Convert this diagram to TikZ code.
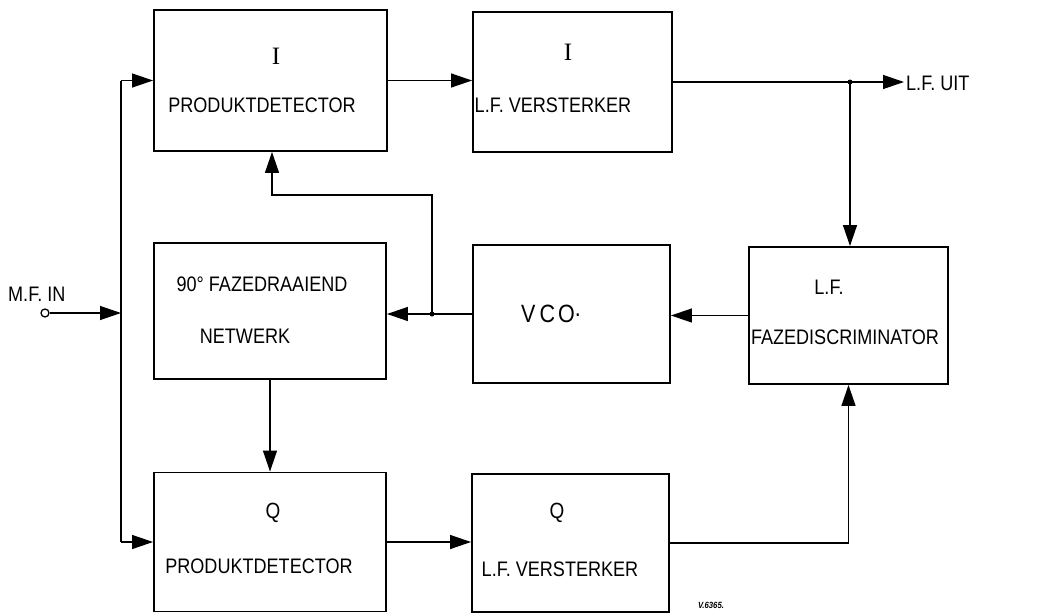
\documentclass[tikz,border=0pt]{standalone}
\usepackage{fontspec}
\setmainfont{Liberation Sans}[FakeStretch=0.86]
\newfontfamily\serifI{Liberation Serif}
\usetikzlibrary{arrows.meta}
\begin{document}
\begin{tikzpicture}[x=1pt,y=-1pt,
  blk/.style={draw,line width=1.9pt,inner sep=0pt},
  wire/.style={line width=1.3pt},
  arr/.style={wire,-{Triangle[length=21pt,width=14pt]}},
  lbl/.style={font=\fontsize{21}{23}\selectfont,inner sep=0pt},
  big/.style={font=\serifI\fontsize{25}{27}\selectfont,inner sep=0pt},
  dot/.style={circle,fill,inner sep=0pt,minimum size=5pt},
  port/.style={circle,draw,line width=1.3pt,fill=white,inner sep=0pt,minimum size=8pt}]
\useasboundingbox (0,0) rectangle (1061,613);
% blocks
\node[blk,minimum width=233pt,minimum height=141pt] (pdi) at (270.5,80.5) {};
\node[blk,minimum width=199pt,minimum height=140pt] (lfi) at (572.5,82) {};
\node[blk,minimum width=232pt,minimum height=136pt] (net) at (270,311) {};
\node[blk,minimum width=197pt,minimum height=138pt] (vco) at (571.5,314) {};
\node[blk,minimum width=199pt,minimum height=137pt] (fd) at (848.5,315.5) {};
\node[blk,minimum width=232pt,minimum height=139pt] (pdq) at (270,542) {};
\node[blk,minimum width=197pt,minimum height=138pt] (lfq) at (570.5,543) {};
% texts
\node[big] (tpdi1) at (276,56) {I};
\node[lbl] (tpdi2) at (262,105) {PRODUKTDETECTOR};
\node[big] (tlfi1) at (568,52) {I};
\node[lbl] (tlfi2) at (553,105) {L.F. VERSTERKER};
\node[lbl] (tnet1) at (262,284) {90\textdegree{} FAZEDRAAIEND};
\node[lbl] (tnet2) at (245,336) {NETWERK};
\node[lbl,font=\fontsize{25}{27}\selectfont] (tvco) at (551,314) {V\kern4pt C\kern3pt O\raisebox{6pt}{.}};
\node[lbl] (tfd1) at (829,287) {L.F.};
\node[lbl] (tfd2) at (845,337) {FAZEDISCRIMINATOR};
\node[lbl,font=\fontsize{22}{24}\selectfont] (tpdq1) at (273,513) {Q};
\node[lbl] (tpdq2) at (259,566) {PRODUKTDETECTOR};
\node[lbl,font=\fontsize{22}{24}\selectfont] (tlfq1) at (557,513) {Q};
\node[lbl] (tlfq2) at (560,569) {L.F. VERSTERKER};
\node[lbl,anchor=west] (uit) at (906,83) {L.F. UIT};
\node[lbl,anchor=west] (mfin) at (8,294) {M.F. IN};
\node[inner sep=0pt,font=\bfseries\itshape\fontsize{9}{10}\selectfont] (vnum) at (711,605) {V.6365.};
% coordinates
\node[port] (in) at (45,313) {};
\coordinate (bus) at (121,313);
\coordinate (j1) at (850,82);
\coordinate (j2) at (432,314);
\coordinate (out) at (904,82);
\coordinate (bend) at (432,195);
% connectors
\draw[arr] (in) -- (bus);
\draw[wire] (bus |- pdi.west) -- (bus |- pdq.west);
\draw[arr] (bus |- pdi.west) -- (pdi.west);
\draw[arr] (bus |- pdq.west) -- (pdq.west);
\draw[arr] (pdi.east) -- (pdi.east -| lfi.west);
\draw[wire] (lfi.east) -- (j1);
\draw[arr] (j1) -- (out);
\draw[arr] (j1) -- (j1 |- fd.north);
\draw[arr] (fd.west) -- (fd.west -| vco.east);
\draw[wire] (vco.west) -- (j2);
\draw[arr] (j2) -- (j2 -| net.east);
\draw[arr] (j2) -- (bend) -| ([xshift=1.5pt]pdi.south);
\draw[arr] (net.south) -- (net.south |- pdq.north);
\draw[arr] (pdq.east) -- (pdq.east -| lfq.west);
\draw[arr] (lfq.east) -| (fd.south);
\node[dot] (d1) at (j1) {};
\node[dot] (d2) at (j2) {};
\end{tikzpicture}
\end{document}
